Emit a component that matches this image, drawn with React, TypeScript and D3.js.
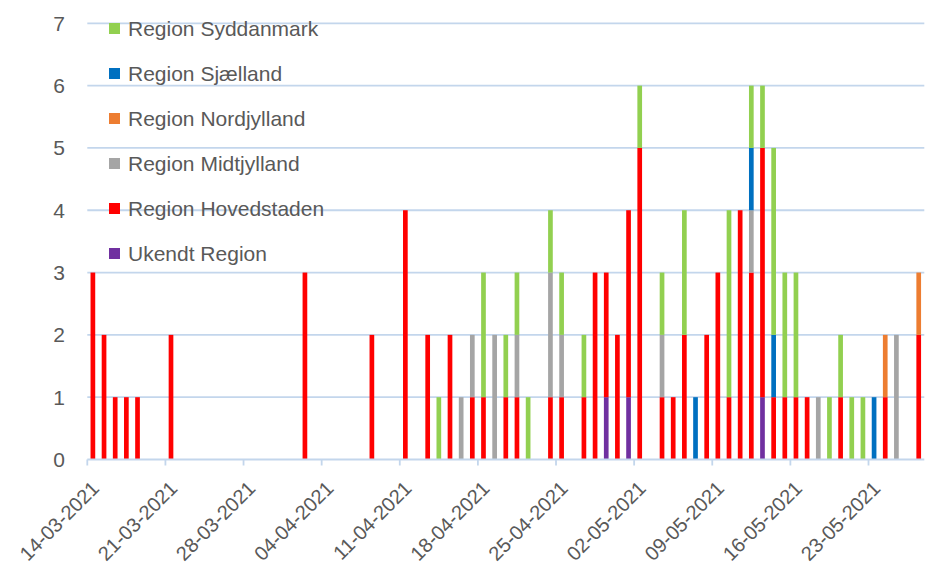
import React from "react"
import * as d3 from "d3"

// dates with at least one case (dd-mm-2021)
const dates = [
  "14-03", "15-03", "16-03", "17-03", "18-03", "21-03", "02-04", "08-04", "11-04", "13-04",
  "14-04", "15-04", "16-04", "17-04", "18-04", "19-04", "20-04", "21-04", "22-04", "24-04",
  "25-04", "27-04", "28-04", "29-04", "30-04", "01-05", "02-05", "04-05", "05-05", "06-05",
  "07-05", "08-05", "09-05", "10-05", "11-05", "12-05", "13-05", "14-05", "15-05", "16-05",
  "17-05", "18-05", "19-05", "20-05", "21-05", "22-05", "23-05", "24-05", "25-05", "27-05",
]

const ukendt = [
  0, 0, 0, 0, 0, 0, 0, 0, 0, 0,
  0, 0, 0, 0, 0, 0, 0, 0, 0, 0,
  0, 0, 0, 1, 0, 1, 0, 0, 0, 0,
  0, 0, 0, 0, 0, 0, 1, 0, 0, 0,
  0, 0, 0, 0, 0, 0, 0, 0, 0, 0,
]
const hovedstaden = [
  3, 2, 1, 1, 1, 2, 3, 2, 4, 2,
  0, 2, 0, 1, 1, 0, 1, 1, 0, 1,
  1, 1, 3, 2, 2, 3, 5, 1, 1, 2,
  0, 2, 3, 1, 4, 3, 4, 1, 1, 1,
  1, 0, 0, 1, 0, 0, 0, 1, 0, 2,
]
const midtjylland = [
  0, 0, 0, 0, 0, 0, 0, 0, 0, 0,
  0, 0, 1, 1, 0, 2, 0, 1, 0, 2,
  1, 0, 0, 0, 0, 0, 0, 1, 0, 0,
  0, 0, 0, 0, 0, 1, 0, 0, 0, 0,
  0, 1, 0, 0, 0, 0, 0, 0, 2, 0,
]
const nordjylland = [
  0, 0, 0, 0, 0, 0, 0, 0, 0, 0,
  0, 0, 0, 0, 0, 0, 0, 0, 0, 0,
  0, 0, 0, 0, 0, 0, 0, 0, 0, 0,
  0, 0, 0, 0, 0, 0, 0, 0, 0, 0,
  0, 0, 0, 0, 0, 0, 0, 1, 0, 1,
]
const sjaelland = [
  0, 0, 0, 0, 0, 0, 0, 0, 0, 0,
  0, 0, 0, 0, 0, 0, 0, 0, 0, 0,
  0, 0, 0, 0, 0, 0, 0, 0, 0, 0,
  1, 0, 0, 0, 0, 1, 0, 1, 0, 0,
  0, 0, 0, 0, 0, 0, 1, 0, 0, 0,
]
const syddanmark = [
  0, 0, 0, 0, 0, 0, 0, 0, 0, 0,
  1, 0, 0, 0, 2, 0, 1, 1, 1, 1,
  1, 1, 0, 0, 0, 0, 1, 1, 0, 2,
  0, 0, 0, 3, 0, 1, 1, 3, 2, 2,
  0, 0, 1, 1, 1, 1, 0, 0, 0, 0,
]

const yTicks = [0, 1, 2, 3, 4, 5, 6, 7]

// stacking order bottom -> top
const seriesKeys = [
  "Ukendt Region",
  "Region Hovedstaden",
  "Region Midtjylland",
  "Region Nordjylland",
  "Region Sjælland",
  "Region Syddanmark",
]
const seriesValues = [ukendt, hovedstaden, midtjylland, nordjylland, sjaelland, syddanmark]
const seriesColors = ["#7030A0", "#FF0000", "#A5A5A5", "#ED7D31", "#0070C0", "#92D050"]

// legend reads top -> bottom
const legendOrder = [
  "Region Syddanmark",
  "Region Sjælland",
  "Region Nordjylland",
  "Region Midtjylland",
  "Region Hovedstaden",
  "Ukendt Region",
]

const parseDay = (s: string) => {
  const [d, m] = s.split("-").map(Number)
  return new Date(Date.UTC(2021, m - 1, d))
}

const width = 925
const height = 569
const margin = { left: 87.3, right: 0.7, top: 23.3, bottom: 109.5 }
const gridColor = "#C3D6EC"
const textColor = "#595959"
const font = "'Liberation Sans', Arial, sans-serif"

export default function App() {
  const rows = dates.map((d, i) => {
    const row: any = { date: parseDay(d) }
    seriesKeys.forEach((k, j) => (row[k] = seriesValues[j][i]))
    return row
  })
  const stacked = d3.stack().keys(seriesKeys)(rows)
  const color = d3.scaleOrdinal<string, string>().domain(seriesKeys).range(seriesColors)

  const start = new Date(Date.UTC(2021, 2, 14))
  const end = new Date(Date.UTC(2021, 4, 28))
  const x = d3
    .scaleUtc()
    .domain([start, end])
    .range([margin.left, width - margin.right])
  const dayW = x(d3.utcDay.offset(start, 1)) - x(start)
  const barW = dayW * 0.42

  const y = d3
    .scaleLinear()
    .domain([0, 7])
    .range([height - margin.bottom, margin.top])

  const xTicks = d3.utcSunday.range(start, end)
  const fmt = d3.utcFormat("%d-%m-%Y")
  const y0 = y(0)

  return (
    <svg
      width={width}
      height={height}
      style={{ position: "absolute", left: 0, top: 0, background: "#fff" }}
      fontFamily={font}
    >
      {yTicks.filter(t => t > 0).map(t => (
        <line key={t} x1={x(start)} x2={x(end)} y1={y(t)} y2={y(t)} stroke={gridColor} strokeWidth={1.8} />
      ))}
      {yTicks.map(t => (
        <text key={t} x={65} y={y(t)} dy="0.36em" textAnchor="end" fontSize={21} fill={textColor}>
          {t}
        </text>
      ))}

      {stacked.map(s => (
        <g key={s.key} fill={color(s.key)}>
          {s.map((d, i) =>
            d[1] - d[0] > 0 ? (
              <rect
                key={i}
                x={x(d.data.date) + dayW / 2 - barW / 2}
                y={y(d[1])}
                width={barW}
                height={y(d[0]) - y(d[1])}
              />
            ) : null
          )}
        </g>
      ))}

      <line x1={x(start)} x2={x(end)} y1={y0} y2={y0} stroke={gridColor} strokeWidth={1.8} />
      {xTicks.map(t => (
        <g key={+t}>
          <line x1={x(t)} x2={x(t)} y1={y0} y2={y0 + 6} stroke={gridColor} strokeWidth={1.8} />
          <text
            transform={`translate(${x(t) + 8},${y0 + 25}) rotate(-45)`}
            textAnchor="end"
            dy="0.36em"
            fontSize={20}
            fill={textColor}
          >
            {fmt(t)}
          </text>
        </g>
      ))}

      {legendOrder.map((k, i) => (
        <g key={k} transform={`translate(109,${28.5 + i * 45})`}>
          <rect x={0} y={-5.5} width={11} height={11} fill={color(k)} />
          <text x={19} y={0} dy="0.36em" fontSize={21} fill={textColor}>
            {k}
          </text>
        </g>
      ))}
    </svg>
  )
}
